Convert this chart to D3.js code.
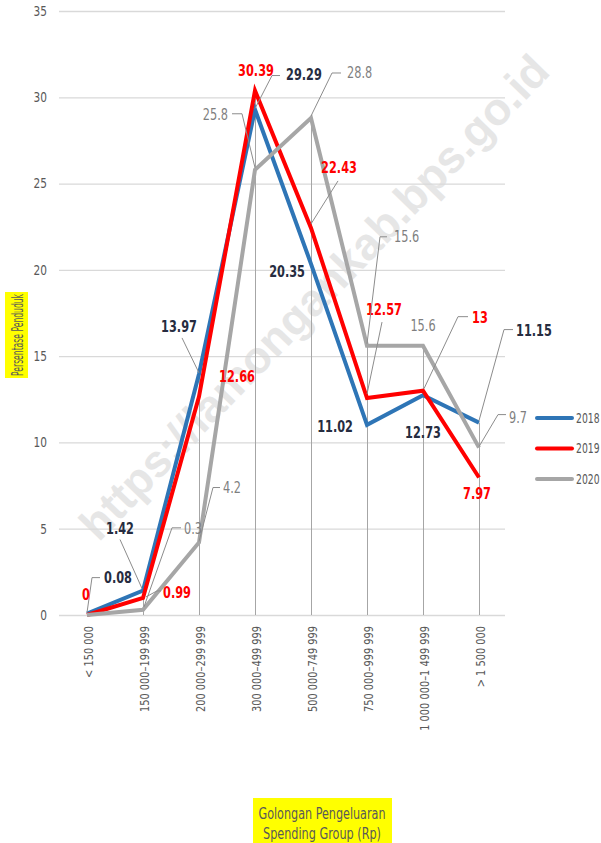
<!DOCTYPE html>
<html>
<head>
<meta charset="utf-8">
<script src="https://cdn.jsdelivr.net/npm/d3@7"></script>
<style>
  body { margin: 0; background: #fff; }
  text { font-family: "Liberation Sans Narrow", "DejaVu Sans Condensed", "Arial Narrow", sans-serif; font-stretch: condensed; }
</style>
</head>
<body>
<div class="viz"></div>
<script>
var categories = ["< 150 000", "150 000\u2013199 999", "200 000\u2013299 999", "300 000\u2013499 999",
  "500 000\u2013749 999", "750 000\u2013999 999", "1 000 000\u20131 499 999", "> 1 500 000"];
var years = ["2018", "2019", "2020"];
var values2018 = [0.08, 1.42, 13.97, 29.29, 20.35, 11.02, 12.73, 11.15];
var values2019 = [0, 0.99, 12.66, 30.39, 22.43, 12.57, 13, 7.97];
var values2020 = [0, 0.3, 4.2, 25.8, 28.8, 15.6, 15.6, 9.7];
var yTicks = [0, 5, 10, 15, 20, 25, 30, 35];

var width = 601, height = 843;
var plotLeft = 59, plotRight = 507, plotTop = 11, plotBottom = 615;
var squeeze = 0.84; // horizontal squeeze so the text looks like a condensed face
var colors = {"2018": "#2e75b6", "2019": "#ff0000", "2020": "#a6a6a6"};
var labelColors = {"2018": "#262c40", "2019": "#ff0000", "2020": "#7f7f7f"};
var leaderColor = "#8c8c8c";

// label placement for each point: dx,dy offset of the text from the point, anchor,
// and an optional leader path (offsets from the point too). null = no label
var labelPos = {
  "2018": [
    {dx: 17, dy: -36, a: "start", lead: [[0, -1], [5, -36], [13, -36]]},
    {dx: -23, dy: -62, a: "middle", lead: [[-1, -2], [-23, -51]]},
    {dx: -20, dy: -47, a: "middle", lead: [[0, -1], [-17, -36]]},
    {dx: 31, dy: -35, a: "start", lead: [[0, -1], [17, -34], [25, -34]]},
    {dx: -6, dy: 8, a: "end"},
    {dx: -14, dy: 2, a: "end"},
    {dx: 0, dy: 37, a: "middle"},
    {dx: 37, dy: -92, a: "start", lead: [[0, -2], [25, -93], [34, -93]]}
  ],
  "2019": [
    {dx: -1, dy: -20, a: "middle"},
    {dx: 20, dy: -5, a: "start", lead: [[3, -1], [14, -7], [18, -7]]},
    {dx: 38, dy: -20, a: "middle"},
    {dx: 1, dy: -20, a: "middle"},
    {dx: 28, dy: -60, a: "middle", lead: [[0, -4], [27, -47]]},
    {dx: 17, dy: -88, a: "middle", lead: [[0, -4], [15, -76]]},
    {dx: 57, dy: -73, a: "middle", lead: [[1, -2], [35, -74], [45, -74]]},
    {dx: -2, dy: 16, a: "middle"}
  ],
  "2020": [
    null,
    {dx: 41, dy: -81, a: "start", lead: [[1, -3], [29, -82], [38, -82]]},
    {dx: 24, dy: -55, a: "start", lead: [[0, -1], [14, -55], [21, -55]]},
    {dx: -27, dy: -55, a: "end", lead: [[0, -2], [-13, -56], [-23, -56]]},
    {dx: 36, dy: -45, a: "start", lead: [[0, -2], [21, -45], [30, -45]]},
    {dx: 27, dy: -109, a: "start", lead: [[0, -2], [13, -109], [20, -109]]},
    {dx: 0, dy: -20, a: "middle"},
    {dx: 30, dy: -30, a: "start", lead: [[0, -1], [19, -33], [27, -33]]}
  ]
};

var series = [
  {year: "2018", values: values2018},
  {year: "2019", values: values2019},
  {year: "2020", values: values2020}
];

var x = d3.scalePoint().domain(categories).range([plotLeft, plotRight]).padding(0.5);
var y = d3.scaleLinear().domain([0, 35]).range([plotBottom, plotTop]);

var svg = d3.select(".viz").append("svg")
  .attr("width", width).attr("height", height);

var at = function(px, py, extra) {
  return "translate(" + px + "," + py + ")" + (extra || "") + " scale(" + squeeze + ",1)";
};

// watermark
svg.append("text")
  .attr("transform", "translate(314,297) rotate(-46)")
  .attr("text-anchor", "middle")
  .attr("dy", "0.35em")
  .style("font-family", "'Liberation Sans', Arial, sans-serif")
  .style("font-stretch", "normal")
  .style("font-weight", "bold")
  .style("font-size", "45px")
  .attr("fill", "#e6e6e6")
  .text("https://lamongankab.bps.go.id");

// gridlines + y ticks
svg.append("g").selectAll("line")
  .data(yTicks)
  .enter().append("line")
  .attr("x1", plotLeft).attr("x2", plotRight - 2)
  .attr("y1", function(d) { return y(d) + 0.5; })
  .attr("y2", function(d) { return y(d) + 0.5; })
  .attr("stroke", "#d9d9d9").attr("stroke-width", 1.3);

svg.append("g").selectAll("text")
  .data(yTicks)
  .enter().append("text")
  .attr("transform", function(d) { return at(47, y(d)); })
  .attr("dy", "0.35em")
  .attr("text-anchor", "end")
  .attr("fill", "#595959")
  .style("font-size", "14px")
  .text(function(d) { return d; });

// drop lines from the highest point down to the axis
svg.append("g").selectAll("line")
  .data(categories)
  .enter().append("line")
  .attr("x1", function(d) { return x(d) + 0.5; })
  .attr("x2", function(d) { return x(d) + 0.5; })
  .attr("y1", plotBottom)
  .attr("y2", function(d, i) {
    return y(d3.max(series, function(s) { return s.values[i]; }));
  })
  .attr("stroke", "#a6a6a6").attr("stroke-width", 1);

// x tick labels
svg.append("g").selectAll("text")
  .data(categories)
  .enter().append("text")
  .attr("transform", function(d) { return at(x(d) + 1, plotBottom + 11, " rotate(-90)"); })
  .attr("dy", "0.35em")
  .attr("text-anchor", "end")
  .attr("fill", "#595959")
  .style("font-size", "13px")
  .text(function(d) { return d; });

// lines
var line = d3.line()
  .x(function(d, i) { return x(categories[i]); })
  .y(function(d) { return y(d); });

svg.append("g").selectAll("path")
  .data(series)
  .enter().append("path")
  .attr("d", function(d) { return line(d.values); })
  .attr("fill", "none")
  .attr("stroke", function(d) { return colors[d.year]; })
  .attr("stroke-width", 4)
  .attr("stroke-linejoin", "miter");

// data labels with leader lines
series.forEach(function(s) {
  var g = svg.append("g");
  s.values.forEach(function(v, i) {
    var p = labelPos[s.year][i];
    if (!p) return;
    var px = x(categories[i]), py = y(v);
    if (p.lead) {
      g.append("path")
        .attr("d", d3.line()(p.lead.map(function(o) { return [px + o[0], py + o[1]]; })))
        .attr("fill", "none")
        .attr("stroke", leaderColor)
        .attr("stroke-width", 1);
    }
    g.append("text")
      .attr("transform", at(px + p.dx, py + p.dy))
      .attr("dy", "0.35em")
      .attr("text-anchor", p.a)
      .attr("fill", labelColors[s.year])
      .style("font-size", "15px")
      .style("font-weight", s.year == "2020" ? "normal" : "bold")
      .text(v);
  });
});

// legend
var legend = svg.append("g").selectAll("g")
  .data(years)
  .enter().append("g")
  .attr("transform", function(d, i) { return "translate(537," + (418 + i * 30.5) + ")"; });

legend.append("line")
  .attr("x1", 0).attr("x2", 35)
  .attr("stroke", function(d) { return colors[d]; })
  .attr("stroke-width", 4)
  .attr("stroke-linecap", "round");

legend.append("text")
  .attr("transform", at(39, 0))
  .attr("dy", "0.35em")
  .attr("fill", "#595959")
  .attr("textLength", 28).attr("lengthAdjust", "spacingAndGlyphs")
  .style("font-size", "14px")
  .text(function(d) { return d; });

// axis titles
svg.append("rect")
  .attr("x", 5).attr("y", 292).attr("width", 23).attr("height", 86)
  .attr("fill", "#ffff00");
svg.append("text")
  .attr("transform", "translate(17,335) rotate(-90)")
  .attr("dy", "0.35em")
  .attr("text-anchor", "middle")
  .attr("textLength", 82).attr("lengthAdjust", "spacingAndGlyphs")
  .attr("fill", "#595959")
  .style("font-size", "16px")
  .text("Persentase Penduduk");

svg.append("rect")
  .attr("x", 253).attr("y", 798).attr("width", 139).attr("height", 45)
  .attr("fill", "#ffff00");
svg.append("text")
  .attr("x", 322).attr("y", 813)
  .attr("dy", "0.35em")
  .attr("text-anchor", "middle")
  .attr("textLength", 127).attr("lengthAdjust", "spacingAndGlyphs")
  .attr("fill", "#595959")
  .style("font-size", "16px")
  .text("Golongan Pengeluaran");
svg.append("text")
  .attr("x", 322).attr("y", 833)
  .attr("dy", "0.35em")
  .attr("text-anchor", "middle")
  .attr("textLength", 118).attr("lengthAdjust", "spacingAndGlyphs")
  .attr("fill", "#595959")
  .style("font-size", "16px")
  .text("Spending Group (Rp)");
</script>
</body>
</html>
